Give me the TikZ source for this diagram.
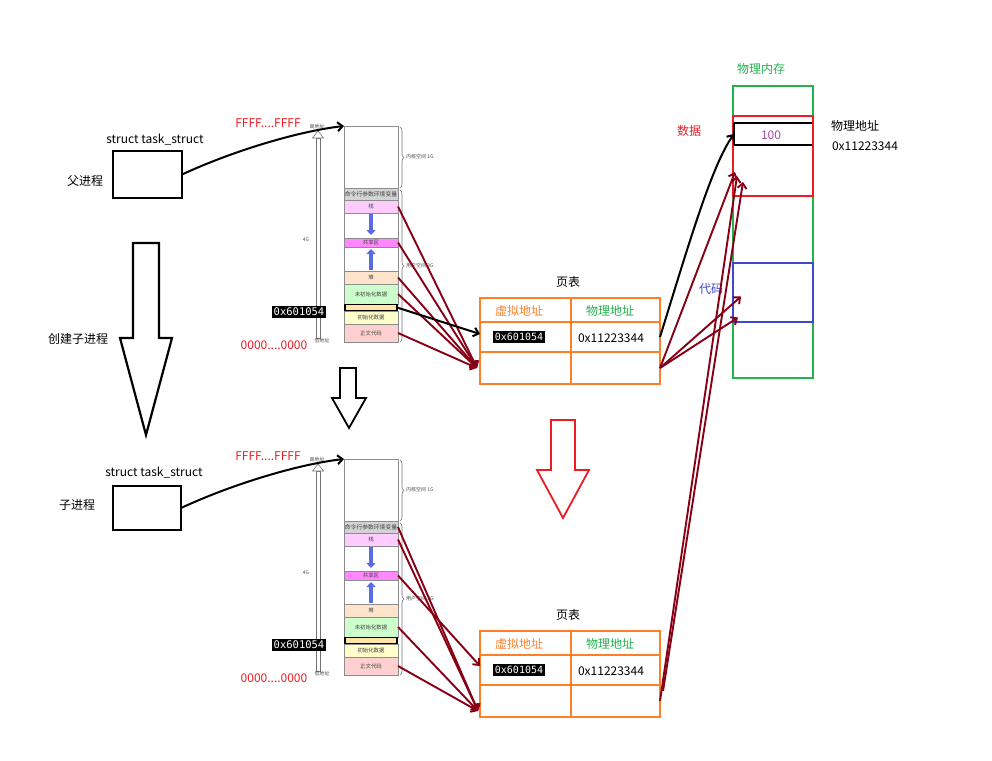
\documentclass[tikz,border=0pt]{standalone}
\usepackage{fontspec}
\newfontfamily\cjk{Noto Sans CJK SC}
\newfontfamily\mono{DejaVu Sans Mono}
\usetikzlibrary{arrows.meta,decorations.pathreplacing,calc}
\definecolor{ptorange}{HTML}{FF7F27}
\definecolor{ptgreen}{HTML}{22B14C}
\definecolor{ptred}{HTML}{ED1C24}
\definecolor{ptblue}{HTML}{3F48CC}
\definecolor{ptpurple}{HTML}{A349A4}
\definecolor{dred}{HTML}{880015}
\definecolor{cmdgray}{HTML}{D4D4D4}
\definecolor{stackpink}{HTML}{FFCCFF}
\definecolor{sharedmag}{HTML}{FF88FF}
\definecolor{heaporange}{HTML}{FFE4CC}
\definecolor{bssgreen}{HTML}{CCFFCC}
\definecolor{datayellow}{HTML}{FFFFCC}
\definecolor{textred}{HTML}{FFD0D0}
\definecolor{growblue}{HTML}{5A6BE6}
\tikzset{
 txt/.style={font=\cjk\fontsize{12}{14}\selectfont, inner sep=0pt},
 smalllab/.style={font=\cjk\fontsize{5}{6}\selectfont, inner sep=0pt, text=black!70},
 seg/.style={anchor=north west, draw=black!45, line width=0.6pt, minimum width=54pt, inner sep=0pt, outer sep=0pt, font=\cjk\fontsize{5.4}{6}\selectfont, text=black!75},
 addr/.style={fill=black, text=white, font=\mono\fontsize{10.5}{12}\selectfont, inner sep=1.8pt},
 ptcell/.style={anchor=north west, draw=ptorange, line width=2.2pt, inner sep=0pt, outer sep=0pt},
 boxrect/.style={anchor=north west, line width=2.2pt, inner sep=0pt, outer sep=0pt},
 rarrow/.style={draw=dred, line width=1.9pt, -{Straight Barb[length=5pt,width=9pt]}},
 barrow/.style={draw=black, line width=2pt, -{Straight Barb[length=5pt,width=9pt]}},
 hollowarrow/.style={draw=black, line width=1.8pt, fill=white, line join=miter},
 growarrow/.style={draw=growblue, line width=3.5pt, -{Triangle[width=9pt,length=5pt]}},
 bracestyle/.style={draw=black!55, line width=0.6pt, decorate, decoration={brace, amplitude=4pt}},
}
\newcommand\memlay[1]{%
 \node[txt, text=ptred] (#1ff) at (268,123) {FFFF....FFFF};
 \node[txt, text=ptred] (#1zz) at (274,345) {0000....0000};
 \draw[black!55, line width=0.6pt, fill=white] (316,138) rectangle (320,338);
 \draw[black!55, line width=0.6pt, fill=white] (312.5,138) -- (318,131) -- (323.5,138) -- cycle;
 \node[smalllab] (#1hi) at (317,127) {高地址};
 \node[smalllab] (#1lo) at (322,341) {低地址};
 \node[smalllab] (#1fourg) at (306,240) {4G};
 \node[seg, minimum height=62pt] (#1kern) at (344,126) {};
 \node[seg, fill=cmdgray, minimum height=12pt, font=\cjk\fontsize{5.8}{6}\selectfont] (#1cmd) at (344,188) {命令行参数环境变量};
 \node[seg, fill=stackpink, minimum height=13pt] (#1stack) at (344,200) {栈};
 \node[seg, minimum height=25pt] (#1gapa) at (344,213) {};
 \node[seg, fill=sharedmag, minimum height=9pt] (#1shared) at (344,238) {共享区};
 \node[seg, minimum height=24pt] (#1gapb) at (344,247) {};
 \node[seg, fill=heaporange, minimum height=13pt] (#1heap) at (344,271) {堆};
 \node[seg, fill=bssgreen, minimum height=20pt] (#1bss) at (344,284) {未初始化数据};
 \node[seg, fill=datayellow, minimum height=13pt] (#1data) at (344,311) {初始化数据};
 \node[seg, fill=textred, minimum height=18pt] (#1text) at (344,324) {正文代码};
 \node[anchor=north west, draw=black, line width=1.8pt, fill=datayellow!80!orange, minimum width=52pt, minimum height=6pt, inner sep=0pt, outer sep=0pt] (#1ptr) at (345,304.5) {};
 \draw[growarrow] (371,214) -- (371,235);
 \draw[growarrow] (371,270) -- (371,249);
 \draw[bracestyle] (400,127) -- (400,188);
 \draw[bracestyle] (400,190) -- (400,342);
 \node[smalllab, anchor=west] (#1kl) at (406,157) {内核空间 1G};
 \node[smalllab, anchor=west] (#1ul) at (406,266) {用户空间 3G};
 \node[addr] (#1va) at (299,312) {0x601054};
}
\newcommand\ptab[1]{%
 \node[txt] (#1title) at (568,282) {页表};
 \node[ptcell, minimum width=91pt, minimum height=24pt] (#1hv) at (480,298) {};
 \node[ptcell, minimum width=89pt, minimum height=24pt] (#1hp) at (571,298) {};
 \node[ptcell, minimum width=91pt, minimum height=30pt] (#1r1v) at (480,322) {};
 \node[ptcell, minimum width=89pt, minimum height=30pt] (#1r1p) at (571,322) {};
 \node[ptcell, minimum width=91pt, minimum height=32pt] (#1r2v) at (480,352) {};
 \node[ptcell, minimum width=89pt, minimum height=32pt] (#1r2p) at (571,352) {};
 \node[txt, text=ptorange] (#1hvt) at (519,311) {虚拟地址};
 \node[txt, text=ptgreen] (#1hpt) at (610,311) {物理地址};
 \node[addr, font=\mono\fontsize{10}{12}\selectfont] (#1pva) at (519,337) {0x601054};
 \node[txt] (#1ppa) at (611,338) {0x11223344};
}
\begin{document}
\begin{tikzpicture}[x=1pt, y=-1pt]
\useasboundingbox[fill=white] (0,0) rectangle (992,760);

% left side
\node[txt] (plab) at (85,181) {父进程};
\node[txt] (pts) at (155,140) {struct task\_struct};
\node[boxrect, draw=black, minimum width=69pt, minimum height=47pt] (ptask) at (113,151) {};
\node[txt] (mklab) at (78,339) {创建子进程};
\node[txt] (clab) at (77,505) {子进程};
\node[txt] (cts) at (154,473) {struct task\_struct};
\node[boxrect, draw=black, minimum width=68pt, minimum height=44pt] (ctask) at (113,486) {};
\draw[hollowarrow, line width=2.2pt] (133,243) -- (159,243) -- (159,338) -- (172,338) -- (146,435) -- (120,338) -- (133,338) -- cycle;

% memory layouts
\begin{scope}
\memlay{t-}
\ptab{t-}
\end{scope}
\begin{scope}[shift={(0,333)}]
\memlay{b-}
\ptab{b-}
\end{scope}

% middle arrows
\draw[hollowarrow] (340,368) -- (356,368) -- (356,398) -- (366,398) -- (349,428) -- (332,398) -- (340,398) -- cycle;
\draw[hollowarrow, draw=ptred] (551,420) -- (575,420) -- (575,470) -- (589,470) -- (563,518) -- (537,470) -- (551,470) -- cycle;

% physical memory
\node[txt, text=ptgreen] (physlab) at (761,69) {物理内存};
\node[boxrect, draw=ptgreen, minimum width=80pt, minimum height=292pt] (phys) at (733,86) {};
\node[boxrect, draw=ptred, minimum width=80pt, minimum height=80pt] (datab) at (733,116) {};
\node[anchor=north west, minimum width=78pt, minimum height=22pt, inner sep=0pt, outer sep=0pt] (cell) at (734,123) {};
\draw[black, line width=2.2pt] (cell.north west) -- (cell.north east);
\draw[black, line width=2.2pt] (cell.south west) -- (cell.south east);
\draw[black, line width=1.4pt] (cell.north west) -- (cell.south west);
\node[txt, text=ptpurple] (hundred) at (771,135) {100};
\node[boxrect, draw=ptblue, minimum width=80pt, minimum height=59pt] (codeb) at (733,263) {};
\node[txt, text=ptred] (datalab) at (689,131) {数据};
\node[txt, text=ptblue] (codelab) at (711,289) {代码};
\node[txt] (palab) at (855,126) {物理地址};
\node[txt] (paval) at (865,146) {0x11223344};

% connectors: task_struct -> address space
\draw[barrow] (ptask.east) .. controls (235,150) and (300,131) .. (t-kern.north west);
\draw[barrow] (ctask.east) .. controls (235,483) and (300,464) .. (b-kern.north west);

% address space -> page table
\foreach \s in {stack,shared,heap,bss,text}
  \draw[rarrow] (t-\s.east) -- ($(t-r2v.west)+(-3,0)$);
\draw[barrow] (t-ptr.east) -- ($(t-r1v.west)+(0,-3)$);
\foreach \s in {cmd,stack,bss,text}
  \draw[rarrow] (b-\s.east) -- ($(b-r2v.south west)+(-2,-6)$);
\draw[rarrow] (b-shared.east) -- ($(b-r1v.west)+(0,-4)$);

% page table -> physical memory
\coordinate (dInA) at ($(datab.west)+(2,16)$);
\coordinate (dInB) at ($(datab.west)+(4,20)$);
\coordinate (dInC) at ($(datab.west)+(10,26)$);
\coordinate (cInA) at ($(codeb.west)+(8,4)$);
\coordinate (cInB) at ($(codeb.west)+(5,25)$);
\coordinate (bOutB) at ($(b-r2p.east)+(3,-10)$);
\draw[barrow] (t-r1p.east) .. controls (690,240) and (712,165) .. (cell.west);
\draw[rarrow] (t-r2p.east) -- (dInA);
\draw[rarrow] (t-r2p.east) -- (cInA);
\draw[rarrow] (t-r2p.east) -- (cInB);
\draw[rarrow] (b-r2p.east) -- (dInB);
\draw[rarrow] (bOutB) -- (dInC);
\end{tikzpicture}
\end{document}
